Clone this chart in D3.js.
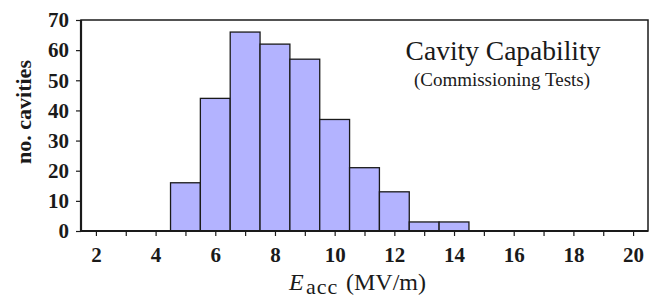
<!DOCTYPE html>
<html>
<head>
<meta charset="utf-8">
<script src="https://cdn.jsdelivr.net/npm/d3@7"></script>
<style>
  html, body { margin: 0; padding: 0; background: #fff; }
  svg { display: block; }
</style>
</head>
<body>
<svg id="chart" width="655" height="297"></svg>
<script>
// Data: histogram bins (centres, MV/m) and counts
const binCenters = [5, 6, 7, 8, 9, 10, 11, 12, 13, 14];
const binCounts  = [16, 44, 66, 62, 57, 37, 21, 13, 3, 3];
const xTickValues = [2, 3, 4, 5, 6, 7, 8, 9, 10, 11, 12, 13, 14, 15, 16, 17, 18, 19, 20];
const yTickValues = [0, 10, 20, 30, 40, 50, 60, 70];
const titleText = "Cavity Capability";
const subtitleText = "(Commissioning Tests)";
const yLabelText = "no. cavities";

(function () {
const svg = d3.select("#chart");
const pL = 81, pR = 648, pT = 20, pB = 231;
const serif = "'Liberation Serif', 'Times New Roman', Times, serif";

const x = d3.scaleLinear().domain([1.5, 20.5]).range([pL, pR]);
const y = d3.scaleLinear().domain([0, 70]).range([pB, pT]);

// frame
svg.append("rect")
  .attr("x", pL).attr("y", pT)
  .attr("width", pR - pL).attr("height", pB - pT)
  .attr("fill", "none").attr("stroke", "#1a1a1a").attr("stroke-width", 1.5);

// bars
svg.append("g").selectAll("rect")
  .data(binCenters.map((c, i) => ({c, v: binCounts[i]})))
  .join("rect")
  .attr("x", d => x(d.c - 0.5))
  .attr("y", d => y(d.v))
  .attr("width", d => x(d.c + 0.5) - x(d.c - 0.5))
  .attr("height", d => y(0) - y(d.v))
  .attr("fill", "#b3b3ff")
  .attr("stroke", "#1a1a1a")
  .attr("stroke-width", 1.3);

// x axis
const xAxis = svg.append("g")
  .attr("transform", `translate(0,${pB})`)
  .call(d3.axisBottom(x).tickValues(xTickValues).tickSize(5).tickPadding(11)
    .tickFormat(d => d % 2 === 0 ? d : ""));
xAxis.select(".domain").attr("stroke", "#1a1a1a").attr("stroke-width", 2.2)
  .attr("d", `M${pL},0H${pR}`);
xAxis.selectAll(".tick line").attr("stroke", "#1a1a1a").attr("stroke-width", 1.2);
xAxis.selectAll("text").attr("font-family", serif).attr("font-size", 21)
  .attr("font-weight", "bold").attr("fill", "#1a1a1a");

// y axis
const yAxis = svg.append("g")
  .attr("transform", `translate(${pL},0)`)
  .call(d3.axisLeft(y).tickValues(yTickValues).tickSize(5).tickPadding(7));
yAxis.select(".domain").attr("stroke", "#1a1a1a").attr("stroke-width", 2.2)
  .attr("d", `M0,${pT}V${pB}`);
yAxis.selectAll(".tick line").attr("stroke", "#1a1a1a").attr("stroke-width", 1.2);
yAxis.selectAll("text").attr("font-family", serif).attr("font-size", 21)
  .attr("font-weight", "bold").attr("fill", "#1a1a1a");

// y label
svg.append("text")
  .attr("transform", "translate(31,112) rotate(-90)")
  .attr("text-anchor", "middle")
  .attr("font-family", serif).attr("font-size", 22).attr("font-weight", "bold")
  .attr("fill", "#1a1a1a")
  .text(yLabelText);

// x label
const xl = svg.append("text")
  .attr("x", 289).attr("y", 290)
  .attr("font-family", serif).attr("font-size", 24).attr("fill", "#1a1a1a");
xl.append("tspan").attr("font-style", "italic").text("E");
xl.append("tspan").attr("x", 306).attr("font-size", 22).attr("dy", 3.5)
  .attr("letter-spacing", 1).text("acc");
xl.append("tspan").attr("x", 346).attr("dy", -3.5).text("(MV/m)");

// title
svg.append("text")
  .attr("x", 503).attr("y", 60)
  .attr("text-anchor", "middle")
  .attr("font-family", serif).attr("font-size", 27.5).attr("fill", "#1a1a1a")
  .text(titleText);
svg.append("text")
  .attr("x", 502).attr("y", 86)
  .attr("text-anchor", "middle")
  .attr("font-family", serif).attr("font-size", 19).attr("fill", "#1a1a1a")
  .text(subtitleText);
})();
</script>
</body>
</html>
